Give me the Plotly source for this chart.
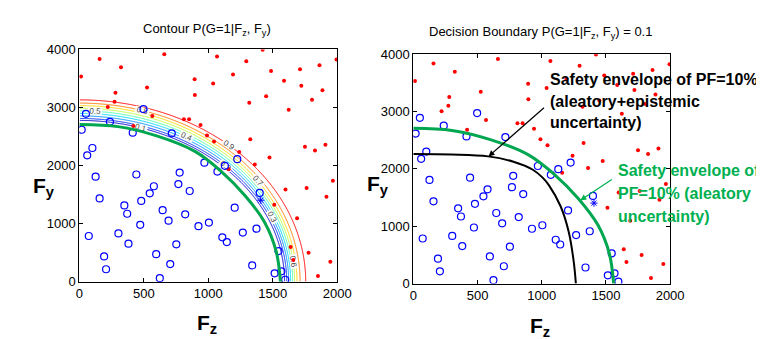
import numpy as np
import plotly.graph_objects as go

W, H = 764, 339

# ---------------- data ----------------
red_x = [13, 157, 323, 659, 280, 525, 894, 896, 1038, 1068, 1192, 1295, 1422, 1487, 1318, 1449,
         1588, 1712, 1722, 1863, 1886, 1805, 1624, 1326, 1475, 1750, 1828, 1909, 1995, 1361, 1240,
         1045, 990, 940, 851, 811, 566, 419, 220, 273, 1159, 1967, 1763, 1599, 1917, 1512, 1689,
         1639, 1778, 1947, 1660, 1851]
red_y = [3533, 3836, 3693, 3918, 3253, 3346, 3484, 3215, 3412, 3880, 3566, 3797, 3995, 3627, 3083, 3193,
         3462, 3660, 3374, 3726, 3297, 3132, 2962, 2451, 2138, 2324, 2258, 2357, 3825, 2017, 2231,
         2412, 2517, 2698, 2797, 2797, 2852, 2681, 3006, 3099, 1934, 1736, 1615, 1588, 1462, 1324, 1094,
         599, 500, 341, 374, 99]

blue_x = [18, 51, 237, 497, 414, 717, 101, 61, 126, 442, 778, 970, 1071, 1129, 1225,
          73, 157, 349, 371, 480, 546, 578, 768, 856, 472, 646, 692, 821, 303, 381, 192, 207,
          596, 752, 705, 624, 924, 1005, 1109, 1144, 1205, 1268, 1374, 1399, 1341, 1545, 1515,
          1567, 1597]
blue_y = [2616, 2890, 2753, 2973, 2566, 2555, 2302, 2176, 1808, 1846, 1879, 2050, 1896, 1995, 2110,
          786, 1434, 1313, 1170, 1390, 1522, 1643, 1681, 1561, 978, 1231, 1050, 1159, 830, 654, 434, 214,
          473, 643, 302, 60, 956, 1017, 764, 681, 1275, 846, 912, 1528, 280, 527, 143,
          178, 33]

star_x = [1407]
star_y = [1403]

# decision boundary P=0.1, aleatory only (green)
green_x = [0, 300, 600, 900, 1100, 1286, 1438, 1527, 1560]
green_y = [2707, 2670, 2510, 2240, 1900, 1480, 1020, 520, 0]

# decision boundary P=0.1, aleatory + epistemic (black)
black_x = [0, 300, 582, 780, 931, 1007, 1058, 1147, 1210, 1248, 1266]
black_y = [2258, 2250, 2218, 2125, 1985, 1847, 1709, 1348, 904, 404, 0]

# contour levels of P(G=1|Fz,Fy) with their axis intercepts
levels = [0.1, 0.2, 0.3, 0.4, 0.5, 0.6, 0.7, 0.8, 0.9]
lev_fz0 = [1592, 1609, 1624, 1639, 1655, 1670, 1688, 1712, 1756]
lev_fy0 = [2777, 2810, 2855, 2899, 2942, 2987, 3032, 3075, 3131]
lev_colors = ['#0000C8', '#0030FF', '#0090FF', '#00D8FF', '#50FFB0', '#C0FF40',
              '#FFD800', '#FF7A00', '#FF0000']

xt = [0, 500, 1000, 1500, 2000]
yt = [0, 1000, 2000, 3000, 4000]

# ---------------- probability field for the contour ----------------
gx = np.linspace(0, 2000, 401)
gy = np.linspace(0, 4000, 401)
X, Y = np.meshgrid(gx, gy)
A = np.array(lev_fz0, float)[:, None, None]
B = np.array(lev_fy0, float)[:, None, None]
G = np.sqrt((X / A) ** 2 + (Y / B) ** 2)  # decreasing with level index
L = np.array(levels)
cnt = (G > 1).sum(axis=0)
nL = len(levels)
i0 = np.clip(cnt - 1, 0, nL - 2)
i1 = i0 + 1
g0 = np.take_along_axis(G, i0[None], 0)[0]
g1 = np.take_along_axis(G, i1[None], 0)[0]
Z = L[i0] + (g0 - 1) / (g0 - g1) * (L[i1] - L[i0])

cscale = [[k / (nL - 1), c] for k, c in enumerate(lev_colors)]

fig = go.Figure()

fig.add_trace(go.Contour(
    x=gx, y=gy, z=Z, xaxis='x', yaxis='y',
    contours=dict(start=0.1, end=0.9, size=0.1, coloring='lines', showlabels=True,
                  labelfont=dict(size=8, color='#444444', family='Liberation Sans')),
    colorscale=cscale, zmin=0.1, zmax=0.9, showscale=False,
    line=dict(width=1), hoverinfo='skip'))

for ax, ay in (('x', 'y'), ('x2', 'y2')):
    fig.add_trace(go.Scatter(x=red_x, y=red_y, xaxis=ax, yaxis=ay, mode='markers',
                             marker=dict(color='#FF0000', size=4, line=dict(width=0)),
                             showlegend=False))
    fig.add_trace(go.Scatter(x=blue_x, y=blue_y, xaxis=ax, yaxis=ay, mode='markers',
                             marker=dict(symbol='circle-open', color='#0000FF', size=7,
                                         line=dict(width=1.2)),
                             showlegend=False))
    fig.add_trace(go.Scatter(x=star_x, y=star_y, xaxis=ax, yaxis=ay, mode='markers',
                             marker=dict(symbol='asterisk-open', color='#0000FF', size=6,
                                         line=dict(width=1)),
                             showlegend=False))
    fig.add_trace(go.Scatter(x=green_x, y=green_y, xaxis=ax, yaxis=ay, mode='lines',
                             line=dict(color='#00A650', width=3, shape='spline', smoothing=1.0),
                             showlegend=False))

fig.add_trace(go.Scatter(x=black_x, y=black_y, xaxis='x2', yaxis='y2', mode='lines',
                         line=dict(color='#000000', width=2, shape='spline', smoothing=1.0),
                         showlegend=False))


def px2p(px, py):
    return px / W, 1 - py / H


axcommon = dict(showline=True, linecolor='black', linewidth=1, mirror='ticks', ticks='inside',
                ticklen=4, tickcolor='black', showgrid=False, zeroline=False,
                tickfont=dict(size=13, color='black', family='Liberation Sans'))

fig.update_layout(
    width=W, height=H, autosize=False,
    margin=dict(l=0, r=0, t=0, b=0),
    paper_bgcolor='white', plot_bgcolor='white', showlegend=False,
    xaxis=dict(domain=[69 / W, 333 / W], range=[0, 2000], tickvals=xt, anchor='y', **axcommon),
    yaxis=dict(domain=[1 - 279 / H, 1 - 36 / H], range=[0, 4000], tickvals=yt, anchor='x', **axcommon),
    xaxis2=dict(domain=[411 / W, 674 / W], range=[0, 2000], tickvals=xt, anchor='y2', **axcommon),
    yaxis2=dict(domain=[1 - 281 / H, 1 - 41 / H], range=[0, 4000], tickvals=yt, anchor='x2', **axcommon),
)

ann = []
fnt = 'Liberation Sans'
# titles
x, y = px2p(200, 15)
ann.append(dict(x=x, y=y, text='Contour P(G=1|F<sub>z</sub>, F<sub>y</sub>)', showarrow=False,
                font=dict(size=13, family=fnt, color='black'), xanchor='center', yanchor='middle'))
x, y = px2p(541, 18)
ann.append(dict(x=x, y=y, text='Decision Boundary P(G=1|F<sub>z</sub>, F<sub>y</sub>) = 0.1', showarrow=False,
                font=dict(size=13, family=fnt, color='black'), xanchor='center', yanchor='middle'))
# axis labels
for (px, py, t) in ((33, 180, '<b>F<sub>y</sub></b>'), (200, 323, '<b>F<sub>z</sub></b>'),
                    (375, 178, '<b>F<sub>y</sub></b>'), (541, 326, '<b>F<sub>z</sub></b>')):
    x, y = px2p(px, py)
    ann.append(dict(x=x, y=y, text=t, showarrow=False, font=dict(size=21, family=fnt, color='black'),
                    xanchor='center', yanchor='middle'))
# black annotation text
for py, t in ((68, 'Safety envelope of PF=10%'), (91, '(aleatory+epistemic'), (113, 'uncertainty)')):
    x, y = px2p(549, py)
    ann.append(dict(x=x, y=y, text='<b>' + t + '</b>', showarrow=False,
                    font=dict(size=16, family=fnt, color='black'), xanchor='left', yanchor='middle'))
# green annotation text
for py, t in ((163, 'Safety envelope of'), (187, 'PF=10% (aleatory'), (211, 'uncertainty)')):
    x, y = px2p(619, py)
    ann.append(dict(x=x, y=y, text='<b>' + t + '</b>', showarrow=False,
                    font=dict(size=16, family=fnt, color='#00B050'), xanchor='left', yanchor='middle'))
# arrows
x, y = px2p(488, 148)
ann.append(dict(x=x, y=y, ax=57, ay=-50, text='', showarrow=True, arrowhead=2, arrowsize=1,
                arrowwidth=1.2, arrowcolor='black'))
x, y = px2p(582, 194)
ann.append(dict(x=x, y=y, ax=33, ay=-22, text='', showarrow=True, arrowhead=2, arrowsize=1,
                arrowwidth=1.2, arrowcolor='#00B050'))

for a in ann:
    a.setdefault('xref', 'paper')
    a.setdefault('yref', 'paper')
fig.update_layout(annotations=ann)

fig.write_html('out.html')
